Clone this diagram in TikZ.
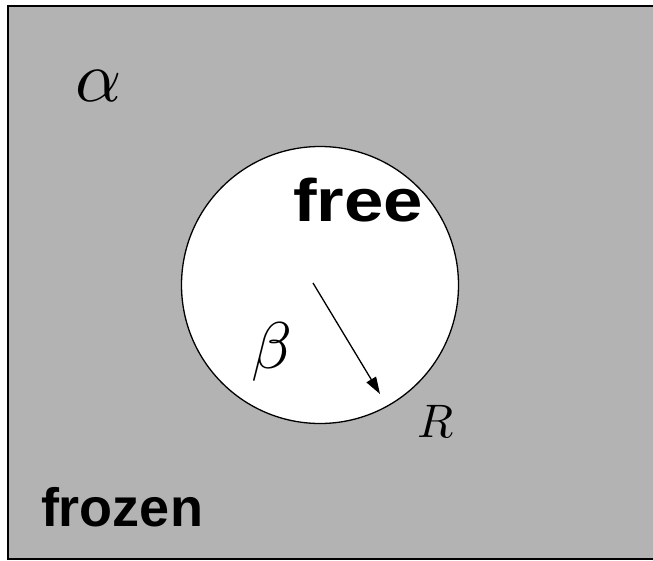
\documentclass[tikz,border=0pt]{standalone}
\usepackage{fontspec}
\usetikzlibrary{arrows.meta}
\newfontfamily\sansbold{Liberation Sans Bold}
\definecolor{bggray}{HTML}{B3B3B3}
\tikzset{
  lbl/.style={inner sep=0pt, outer sep=0pt},
  boldlbl/.style={lbl, font=\sansbold},
  greeklbl/.style={lbl, font=\fontsize{10}{12}\selectfont},
}
\begin{document}
\begin{tikzpicture}[x=1pt,y=-1pt]
\useasboundingbox (0,0) rectangle (653,561);
\fill[white] (0,0) rectangle (653,561);
\draw[fill=bggray, line width=2pt] (8,6) rectangle (660,559);
\node[draw, fill=white, circle, line width=1.3pt, minimum size=277pt, inner sep=0pt] (circ) at (320,285) {};
\node[boldlbl, anchor=base west, xscale=1.18] (free) at (293,222) {\fontsize{60}{62}\selectfont free};
\node[boldlbl, anchor=base west] (frozen) at (41,526) {\fontsize{54}{56}\selectfont frozen};
\node[greeklbl, anchor=base west, scale=7.2] (alpha) at (75,102) {$\alpha$};
\node[greeklbl, scale=6.6] (beta) at (272,352) {$\beta$};
\node[greeklbl, anchor=base west, scale=4.7] (R) at (417,437) {$R$};
\coordinate (a0) at (313,283);
\coordinate (a1) at (380,394);
\draw[line width=1.3pt, -{Triangle[length=17pt,width=11pt]}] (a0) -- (a1);
\end{tikzpicture}
\end{document}
